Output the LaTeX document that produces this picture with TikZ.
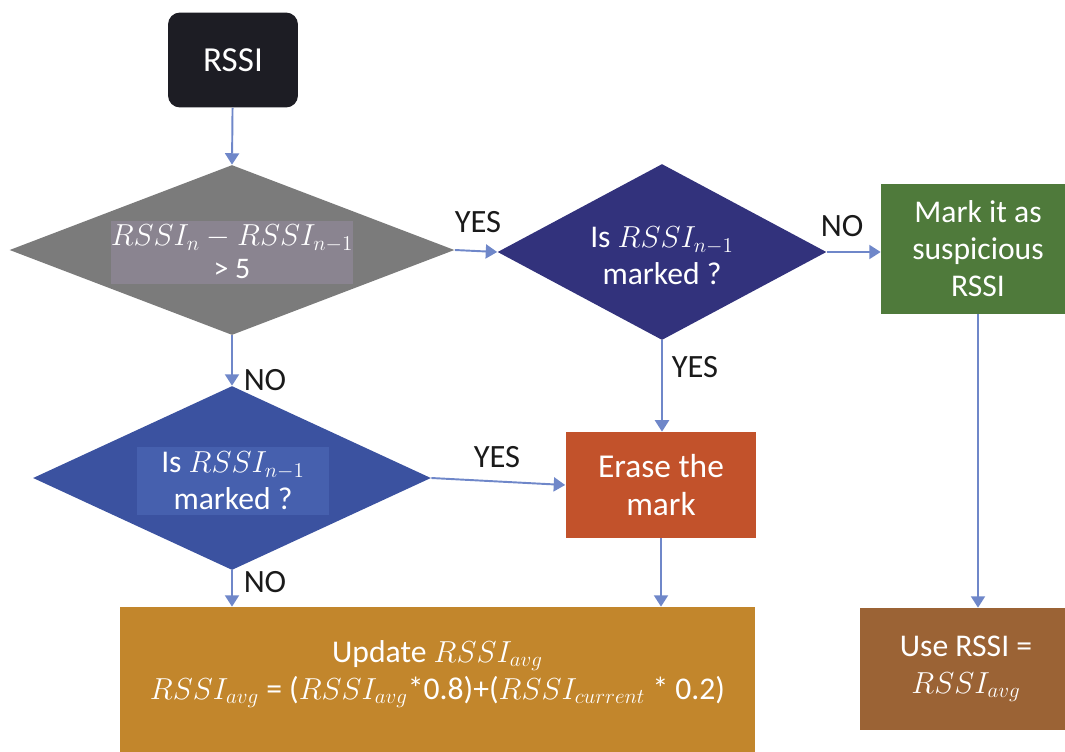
\documentclass[tikz,border=0pt]{standalone}
\usepackage{fontspec}
\setmainfont{Carlito}
\usetikzlibrary{shapes.geometric,arrows.meta}
\definecolor{arrowc}{HTML}{6F87C9}
\definecolor{rssic}{HTML}{1D1D24}
\definecolor{grayc}{HTML}{7B7B7B}
\definecolor{grayin}{HTML}{8A8490}
\definecolor{navyc}{HTML}{32327C}
\definecolor{bluec}{HTML}{3B52A0}
\definecolor{bluein}{HTML}{4660AE}
\definecolor{greenc}{HTML}{4F7A3B}
\definecolor{erasec}{HTML}{C2522B}
\definecolor{updc}{HTML}{C2862C}
\definecolor{usec}{HTML}{9B6335}
\definecolor{labc}{HTML}{1A1A1A}
\begin{document}
\begin{tikzpicture}[x=0.02cm,y=-0.02cm,
  font=\fontsize{18}{21}\selectfont,
  flow/.style={draw=arrowc, line width=1.1pt, -{Triangle[length=6.5pt,width=8pt]}},
  procbox/.style={rectangle, text=white, align=center, inner sep=0pt},
  decision/.style={diamond, inner sep=0pt},
  innerbox/.style={rectangle, text=white, align=center, inner sep=0pt},
  lab/.style={text=labc, inner sep=1pt, font=\fontsize{18.5}{22}\selectfont}]
\useasboundingbox (0,0) rectangle (1065,751);
\clip (0,0) rectangle (1065,751);

% start
\node[procbox, fill=rssic, rounded corners=0.24cm, minimum width=2.6cm, minimum height=1.9cm, font=\fontsize{20}{24}\selectfont] (rssi) at (233,60) {RSSI};

% gray decision
\node[decision, fill=grayc, minimum width=8.9cm, minimum height=3.4cm] (g) at (232,250) {};
\node[innerbox, fill=grayin, minimum width=4.42cm, minimum height=1.26cm, font=\fontsize{17}{19}\selectfont] (gi) at (232,252) {$RSSI_n - RSSI_{n-1}$\\> 5};

% decision 1
\node[decision, fill=navyc, minimum width=6.58cm, minimum height=3.52cm] (d1) at (662,252) {};
\node[innerbox] (d1i) at (662,256) {Is $RSSI_{n-1}$\\marked ?};

% decision 2
\node[decision, fill=bluec, minimum width=7.96cm, minimum height=3.68cm] (d2) at (232,478) {};
\node[innerbox, fill=bluein, minimum width=3.86cm, minimum height=1.36cm] (d2i) at (233,481) {Is $RSSI_{n-1}$\\marked ?};

% boxes
\node[procbox, fill=greenc, minimum width=3.88cm, minimum height=2.6cm] (green) at (978,249) {Mark it as\\suspicious\\RSSI};
\node[procbox, fill=erasec, minimum width=3.82cm, minimum height=2.12cm, font=\fontsize{19}{22}\selectfont] (erase) at (661,485) {Erase the\\mark};
\node[procbox, fill=updc, minimum width=12.7cm, minimum height=3.08cm] (upd) at (437.5,684) {};
\node[innerbox] (updt) at (437.5,674) {Update $RSSI_{avg}$\\$RSSI_{avg}$ = ($RSSI_{avg}$*0.8)+($RSSI_{current}$ * 0.2)};
\node[procbox, fill=usec, minimum width=4.24cm, minimum height=2.44cm] (use) at (966,669) {Use RSSI =\\$RSSI_{avg}$};

% labels
\node[lab] (l1) at (478,222) {YES};
\node[lab] (l2) at (842,226) {NO};
\node[lab] (l3) at (695,367) {YES};
\node[lab] (l4) at (265,380) {NO};
\node[lab] (l5) at (497,457) {YES};
\node[lab] (l6) at (265,582) {NO};

% connectors
\draw[flow] (rssi) -- (g.north);
\draw[flow] (g.east) -- (d1.west);
\draw[flow] (d1.east) -- (green.west |- d1.east);
\draw[flow] (d1.south) -- (d1.south |- erase.north);
\draw[flow] (g.south) -- (d2.north);
\draw[flow] (d2.east) -- (erase.west);
\draw[flow] (d2.south) -- (d2.south |- upd.north);
\draw[flow] (erase.south) -- (erase.south |- upd.north);
\draw[flow] (green.south) -- (green.south |- use.north);
\end{tikzpicture}
\end{document}
